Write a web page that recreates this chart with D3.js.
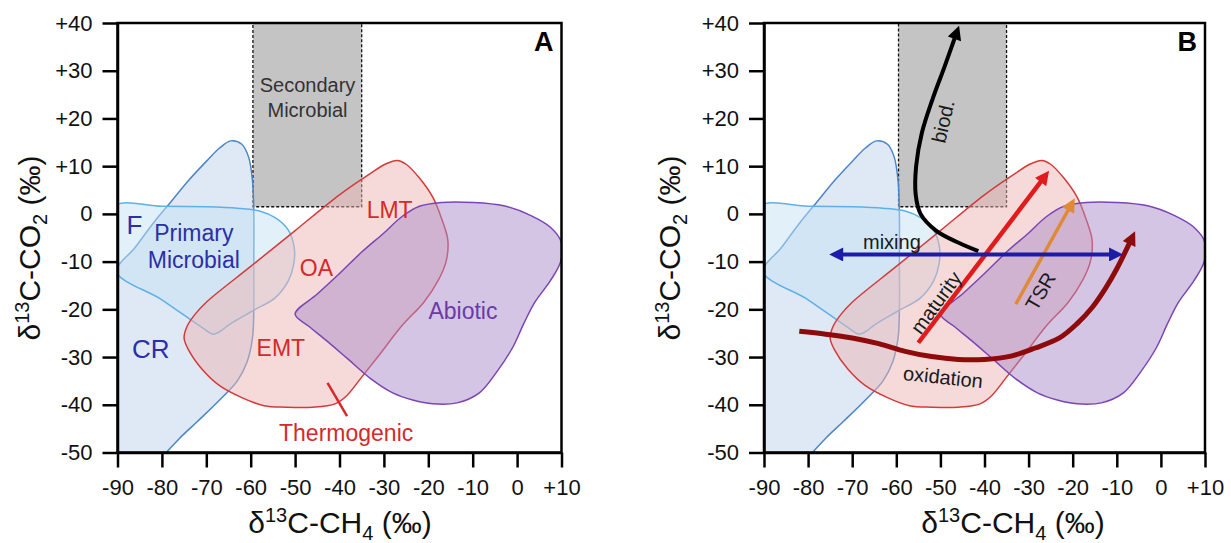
<!DOCTYPE html>
<html>
<head>
<meta charset="utf-8">
<script src="https://cdn.jsdelivr.net/npm/d3@7"></script>
<style>
body{margin:0;background:#fff}
svg{display:block;font-family:"Liberation Sans",Arial,sans-serif}
</style>
</head>
<body>
<div class="flex-container"></div>
<script>
var w = 1231;
var h = 543;

// axis ticks
var xTicks = [-90, -80, -70, -60, -50, -40, -30, -20, -10, 0, 10];
var yTicks = [40, 30, 20, 10, 0, -10, -20, -30, -40, -50];

// field outlines (d13C-CH4, d13C-CO2)
var crOutline = [[-91,-51],[-91,-13],[-86,-7],[-82,-2],[-78,2.5],[-74,7],[-70,11],[-67,13.8],[-64.5,15.3],[-62,14.6],[-60.5,12],[-59.6,7],[-59.3,0],[-59.3,-10],[-59.3,-20],[-59.6,-26],[-60.8,-31],[-63,-35],[-67,-39],[-72,-43.5],[-76,-47],[-79,-50],[-80,-51]];
var fOutline = [[-91,1.5],[-80,1.6],[-70,1.5],[-63,1.2],[-58,0.6],[-54.5,-0.8],[-51.6,-3.3],[-50.2,-7],[-50.3,-10.5],[-51.5,-14],[-54.5,-17.6],[-59.5,-20.3],[-64.5,-23],[-67.2,-24.8],[-68.5,-25.2],[-71,-23.8],[-80,-18],[-91,-11.5]];
var thermoOutline = [[-70,-18.5],[-60,-11],[-50,-3.5],[-40,4],[-33,8.5],[-29.5,10.5],[-27,11.2],[-25,10.4],[-22,7.5],[-19,3.5],[-17,-1],[-15.6,-5.5],[-16,-10],[-17.8,-14],[-21,-18.5],[-26,-23.5],[-31,-29.5],[-35,-34.2],[-38.5,-38.2],[-41,-39.8],[-46,-40.5],[-52,-40.5],[-57,-40.2],[-62,-38.5],[-67,-36],[-71,-32.5],[-74,-28.5],[-75,-26],[-74.3,-23.5],[-72.5,-21]];
var abioticOutline = [[-50,-21],[-45,-16.8],[-40,-12.5],[-35,-8],[-30,-4],[-26,-0.6],[-22,1.6],[-17,2.4],[-10,2.4],[-3,1.7],[3,-0.3],[7.5,-2.8],[10,-6],[9.8,-10],[7.5,-14],[4,-18.5],[1.5,-23],[-1,-28],[-4.5,-33],[-8.5,-37.5],[-13.5,-39.6],[-19,-39.8],[-23.5,-39],[-28,-37.5],[-33,-34.5],[-38,-30.5],[-43,-26.5],[-47,-23.5]];
var secondaryBox = [-59.5, -35, 1.5, 40];

// labels of panel A
var labelsA = [
  {t:"F", x:-86.2, y:-2.4, c:"#2b2fa8", s:26},
  {t:"Primary", x:-72.8, y:-4, c:"#2b2fa8", s:23},
  {t:"Microbial", x:-72.8, y:-9.6, c:"#2b2fa8", s:23},
  {t:"CR", x:-82.5, y:-28.2, c:"#2b2fa8", s:26},
  {t:"LMT", x:-28.7, y:0.9, c:"#d42a2a", s:23},
  {t:"OA", x:-45.2, y:-11.3, c:"#d42a2a", s:23},
  {t:"EMT", x:-53.2, y:-28.1, c:"#d42a2a", s:23},
  {t:"Thermogenic", x:-38.5, y:-45.9, c:"#d42a2a", s:23},
  {t:"Abiotic", x:-12.2, y:-20.4, c:"#6a3aa8", s:23},
  {t:"Secondary", x:-47.2, y:27, c:"#333", s:20},
  {t:"Microbial", x:-47.2, y:21.7, c:"#333", s:20}
];
var thermoPointer = [[-42.7,-35.4],[-38.3,-42.4]];

// process arrows of panel B
var biodPath = [[-41.4,-7.8],[-46,-6],[-51,-3.5],[-54.5,0],[-55.6,4],[-55.5,10],[-54.2,17],[-51.8,24],[-49.2,30.5],[-46.5,37.5]];
var mixingPath = [[-73,-8.5],[-10.8,-8.5]];
var maturityPath = [[-55,-27],[-26.7,7.4]];
var tsrPath = [[-32.9,-18.9],[-20.6,1.5]];
var oxidationPath = [[-82,-24.6],[-76,-25.2],[-70,-26],[-64,-27.2],[-58,-28.8],[-52,-29.9],[-46,-30.5],[-40,-30.5],[-34,-29.8],[-28.5,-28.1],[-23,-26],[-19,-23],[-15.5,-19.5],[-12.5,-15.5],[-10,-11.5],[-6.8,-5.5]];
var labelsB = [
  {t:"biod.", x:-49.4, y:19.4, r:-77},
  {t:"mixing", x:-61, y:-5.8, r:0},
  {t:"maturity", x:-51, y:-18.6, r:-54},
  {t:"TSR", x:-27.3, y:-16.2, r:-60},
  {t:"oxidation", x:-49.4, y:-34.2, r:6}
];

var panels = [
  {name:"A", x0:117.5, x1:561.5, titleX:340, yTitleX:30},
  {name:"B", x0:764, x1:1205, titleX:1013, yTitleX:670}
];
var plotTop = 23, plotBottom = 452.5;

function fmt(v){ return v > 0 ? "+" + v : "" + v; }

var svg = d3.select('.flex-container')
            .append("svg")
            .attr("width", w)
            .attr("height", h);

var defs = svg.append("defs");

// arrow heads
var heads = {black:"#000", blue:"#1c1ca8", red:"#e11b1b", orange:"#e08936", dark:"#8e0b0b"};
Object.keys(heads).forEach(function(k){
    defs.append("marker")
        .attr("id", "head-" + k)
        .attr("viewBox", "0 0 10 10")
        .attr("refX", 3)
        .attr("refY", 5)
        .attr("markerUnits", "userSpaceOnUse")
        .attr("markerWidth", 16)
        .attr("markerHeight", 14)
        .attr("orient", "auto-start-reverse")
        .append("path")
        .attr("d", "M0,0 L10,5 L0,10 Z")
        .attr("fill", heads[k]);
});

panels.forEach(function(p, pi){

    var x = d3.scaleLinear().domain([-90, 10]).range([p.x0, p.x1]);
    var y = d3.scaleLinear().domain([-50, 40]).range([plotBottom, plotTop]);

    defs.append("clipPath").attr("id", "clip" + pi)
        .append("rect")
        .attr("x", p.x0).attr("y", plotTop)
        .attr("width", p.x1 - p.x0).attr("height", plotBottom - plotTop);

    var g = svg.append("g");
    var plot = g.append("g").attr("clip-path", "url(#clip" + pi + ")");

    var area = d3.line()
                 .x(function(d){ return x(d[0]); })
                 .y(function(d){ return y(d[1]); })
                 .curve(d3.curveCatmullRomClosed.alpha(0.5));

    // secondary microbial box
    plot.append("rect")
        .attr("x", x(secondaryBox[0]))
        .attr("y", y(secondaryBox[3]))
        .attr("width", x(secondaryBox[1]) - x(secondaryBox[0]))
        .attr("height", y(secondaryBox[2]) - y(secondaryBox[3]))
        .attr("fill", "#c4c4c4")
        .attr("stroke", "#111")
        .attr("stroke-width", 1.3)
        .attr("stroke-dasharray", "3,2");

    var fields = [
        {pts:crOutline, fill:"#bfd1eb", stroke:"#4a86c8"},
        {pts:fOutline, fill:"#c6e2f6", stroke:"#5fb0e6"},
        {pts:thermoOutline, fill:"#eeb6b4", stroke:"#d43a3a"},
        {pts:abioticOutline, fill:"#a98bc9", stroke:"#7b45b5"}
    ];

    plot.selectAll("path.field")
        .data(fields)
        .enter()
        .append("path")
        .attr("class", "field")
        .attr("d", function(d){ return area(d.pts); })
        .attr("fill", function(d){ return d.fill; })
        .attr("fill-opacity", 0.5)
        .attr("stroke", function(d){ return d.stroke; })
        .attr("stroke-width", 1.5);

    if (p.name == "A") {
        g.selectAll("text.lab")
         .data(labelsA)
         .enter()
         .append("text")
         .attr("class", "lab")
         .attr("x", function(d){ return x(d.x); })
         .attr("y", function(d){ return y(d.y); })
         .attr("dy", "0.35em")
         .attr("text-anchor", "middle")
         .attr("fill", function(d){ return d.c; })
         .attr("font-size", function(d){ return d.s; })
         .text(function(d){ return d.t; });

        g.append("line")
         .attr("x1", x(thermoPointer[0][0])).attr("y1", y(thermoPointer[0][1]))
         .attr("x2", x(thermoPointer[1][0])).attr("y2", y(thermoPointer[1][1]))
         .attr("stroke", "#d42a2a")
         .attr("stroke-width", 2.5);
    }
    else {
        var line = d3.line()
                     .x(function(d){ return x(d[0]); })
                     .y(function(d){ return y(d[1]); })
                     .curve(d3.curveCatmullRom.alpha(0.5));

        var arrows = [
            {pts:biodPath, c:"black", sw:4, both:false},
            {pts:oxidationPath, c:"dark", sw:5, both:false},
            {pts:maturityPath, c:"red", sw:4.5, both:false},
            {pts:tsrPath, c:"orange", sw:3.5, both:false},
            {pts:mixingPath, c:"blue", sw:4, both:true}
        ];

        g.selectAll("path.arrow")
         .data(arrows)
         .enter()
         .append("path")
         .attr("class", "arrow")
         .attr("d", function(d){ return line(d.pts); })
         .attr("fill", "none")
         .attr("stroke", function(d){ return heads[d.c]; })
         .attr("stroke-width", function(d){ return d.sw; })
         .attr("marker-end", function(d){ return "url(#head-" + d.c + ")"; })
         .attr("marker-start", function(d){ return d.both ? "url(#head-" + d.c + ")" : null; });

        g.selectAll("text.lab")
         .data(labelsB)
         .enter()
         .append("text")
         .attr("class", "lab")
         .attr("transform", function(d){ return "translate(" + x(d.x) + "," + y(d.y) + ") rotate(" + d.r + ")"; })
         .attr("dy", "0.35em")
         .attr("text-anchor", "middle")
         .attr("fill", "#1a1a1a")
         .attr("font-size", 20)
         .text(function(d){ return d.t; });
    }

    // frame
    g.append("rect")
     .attr("x", p.x0).attr("y", plotTop)
     .attr("width", p.x1 - p.x0).attr("height", plotBottom - plotTop)
     .attr("fill", "none")
     .attr("stroke", "#000")
     .attr("stroke-width", 2.5);

    var xAxis = g.append("g")
                 .attr("transform", "translate(0," + plotBottom + ")")
                 .call(d3.axisBottom(x).tickValues(xTicks).tickFormat(fmt).tickSize(15).tickSizeOuter(0).tickPadding(12));
    var yAxis = g.append("g")
                 .attr("transform", "translate(" + p.x0 + ",0)")
                 .call(d3.axisLeft(y).tickValues(yTicks).tickFormat(fmt).tickSize(15).tickSizeOuter(0).tickPadding(10));

    [xAxis, yAxis].forEach(function(a){
        a.select(".domain").attr("stroke-width", 2.5);
        a.selectAll(".tick line").attr("stroke-width", 2.5);
        a.selectAll(".tick text")
         .attr("font-size", 22)
         .attr("font-family", "'Liberation Sans', Arial, sans-serif")
         .attr("fill", "#111");
    });

    // axis titles
    var xt = g.append("text")
              .attr("x", p.titleX)
              .attr("y", 533)
              .attr("text-anchor", "middle")
              .attr("font-size", 30)
              .attr("fill", "#111");
    xt.append("tspan").text("δ");
    xt.append("tspan").attr("dy", -11).attr("font-size", 20).text("13");
    xt.append("tspan").attr("dy", 11).text("C-CH");
    xt.append("tspan").attr("dy", 7).attr("font-size", 20).text("4");
    xt.append("tspan").attr("dy", -7).text(" (‰)");

    var yt = g.append("text")
              .attr("transform", "translate(" + (p.yTitleX + 10) + "," + 248 + ") rotate(-90)")
              .attr("text-anchor", "middle")
              .attr("font-size", 30)
              .attr("fill", "#111");
    yt.append("tspan").text("δ");
    yt.append("tspan").attr("dy", -11).attr("font-size", 20).text("13");
    yt.append("tspan").attr("dy", 11).text("C-CO");
    yt.append("tspan").attr("dy", 7).attr("font-size", 20).text("2");
    yt.append("tspan").attr("dy", -7).text(" (‰)");

    g.append("text")
     .attr("x", p.x1 - 8)
     .attr("y", 51)
     .attr("text-anchor", "end")
     .attr("font-size", 27)
     .attr("font-weight", "bold")
     .attr("fill", "#000")
     .text(p.name);
});
</script>
</body>
</html>
